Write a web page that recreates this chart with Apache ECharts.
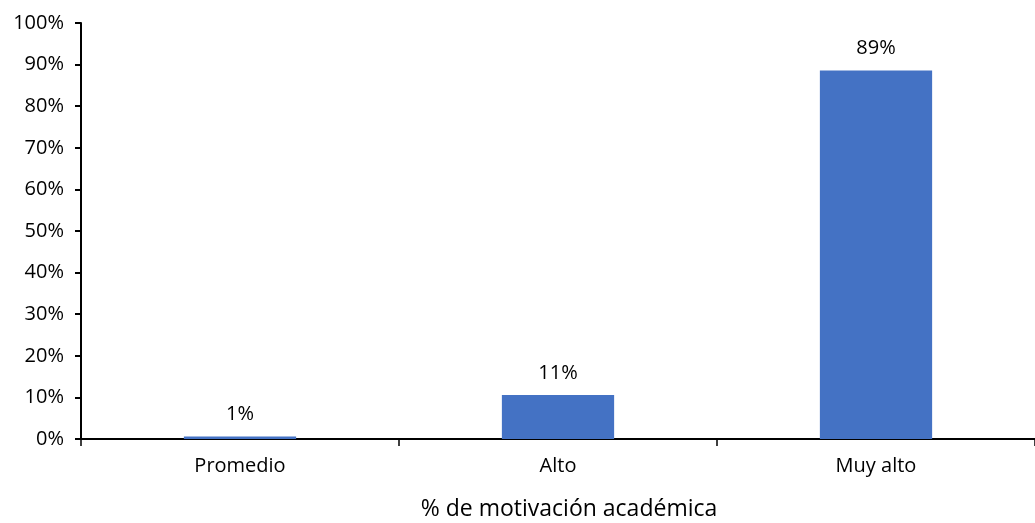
<!DOCTYPE html>
<html>
<head>
<meta charset="utf-8">
<script src="https://cdn.jsdelivr.net/npm/echarts@6/dist/echarts.min.js"></script>
<style>
  html, body { margin: 0; padding: 0; background: #fff; }
  #main { width: 1035px; height: 523px; }
</style>
</head>
<body>
<div id="main"></div>
<script>
// datos
const categories = ['Promedio', 'Alto', 'Muy alto']
const values = [0.6, 10.6, 88.6]
const yTicks = [0, 10, 20, 30, 40, 50, 60, 70, 80, 90, 100]

const font = '"Open Sans", Lato, sans-serif'
const chart = echarts.init(document.getElementById('main'))

chart.setOption({
  animation: false,
  textStyle: { fontFamily: font },
  title: {
    text: '% de motivación académica',
    left: 564,
    top: 493,
    textAlign: 'center',
    textStyle: { fontFamily: font, fontSize: 23, fontWeight: 'normal', color: '#000' }
  },
  grid: { left: 81, right: -6, top: 23, bottom: 84 },
  xAxis: {
    type: 'category',
    data: categories,
    axisLine: { lineStyle: { color: '#000', width: 2 } },
    axisTick: { show: true, length: 7, lineStyle: { color: '#000', width: 1.5 } },
    axisLabel: { color: '#000', fontSize: 20, margin: 17, fontFamily: font }
  },
  yAxis: {
    type: 'value',
    min: yTicks[0],
    max: yTicks[yTicks.length - 1],
    interval: 10,
    splitLine: { show: false },
    axisLine: { show: true, lineStyle: { color: '#000', width: 2 } },
    axisTick: { show: true, length: 6, lineStyle: { color: '#000', width: 2 } },
    axisLabel: { color: '#000', fontSize: 20, margin: 17, fontFamily: font, formatter: '{value}%' }
  },
  series: [{
    type: 'bar',
    data: values,
    barWidth: '35.3%',
    itemStyle: { color: '#4472C4' },
    label: {
      show: true,
      position: 'top',
      distance: 12,
      color: '#000',
      fontSize: 20,
      fontFamily: font,
      formatter: p => Math.round(p.value) + '%'
    }
  }]
})
</script>
</body>
</html>
